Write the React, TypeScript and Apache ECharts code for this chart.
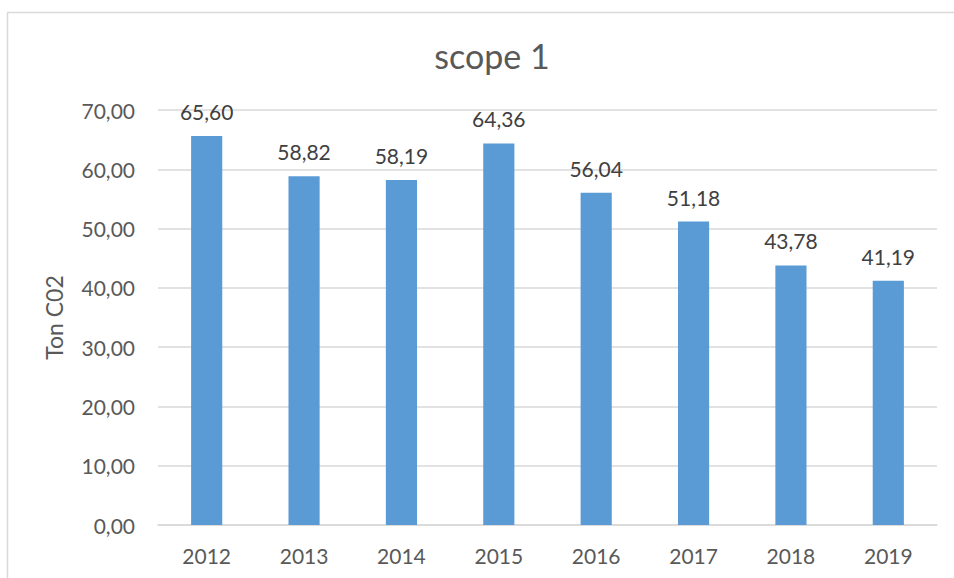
import React, { useEffect, useRef } from "react";
import * as echarts from "echarts";

const categories = ["2012", "2013", "2014", "2015", "2016", "2017", "2018", "2019"];
const values = [65.6, 58.82, 58.19, 64.36, 56.04, 51.18, 43.78, 41.19];
const titleText = "scope 1";
const yAxisName = "Ton C02";

const fmt = (v: number) => v.toFixed(2).replace(".", ",");
const FONT = "Lato, 'Open Sans', sans-serif";

export default function App() {
  const ref = useRef<HTMLDivElement>(null);
  useEffect(() => {
    if (!ref.current) return;
    const chart = echarts.init(ref.current, undefined, { renderer: "svg" });
    chart.setOption({
      animation: false,
      backgroundColor: "#ffffff",
      textStyle: { fontFamily: FONT },
      title: {
        text: titleText,
        left: 487,
        top: 33,
        textAlign: "center",
        textStyle: { fontFamily: FONT, fontSize: 34, fontWeight: "normal", color: "#595959" },
      },
      graphic: [
        {
          type: "rect",
          shape: { x: 7.5, y: 12.5, width: 980, height: 620 },
          style: { fill: "none", stroke: "#d9d9d9", lineWidth: 1.5 },
          silent: true,
        },
      ],
      grid: { left: 158, right: 17, top: 110, bottom: 53 },
      xAxis: {
        type: "category",
        data: categories,
        axisLine: { lineStyle: { color: "#d9d9d9", width: 1.5 } },
        axisTick: { show: false },
        axisLabel: { color: "#595959", fontSize: 21, margin: 20, fontFamily: FONT },
      },
      yAxis: {
        type: "value",
        min: 0,
        max: 70,
        interval: 10,
        name: yAxisName,
        nameLocation: "middle",
        nameGap: 93,
        nameTextStyle: { color: "#595959", fontSize: 23, fontFamily: FONT },
        axisLine: { show: false },
        axisTick: { show: false },
        axisLabel: { color: "#595959", fontSize: 21, margin: 23, fontFamily: FONT, formatter: (v: number) => fmt(v) },
        splitLine: { lineStyle: { color: "#d9d9d9", width: 1.5 } },
      },
      series: [
        {
          type: "bar",
          data: values,
          barWidth: "32%",
          itemStyle: { color: "#5b9bd5" },
          label: {
            show: true,
            position: "top",
            distance: 14,
            color: "#404040",
            fontSize: 21,
            fontFamily: FONT,
            formatter: (p: any) => fmt(p.value),
          },
        },
      ],
    });
    return () => chart.dispose();
  }, []);
  return (
    <div
      ref={ref}
      style={{ position: "absolute", left: 0, top: 0, width: 954, height: 578 }}
    />
  );
}
